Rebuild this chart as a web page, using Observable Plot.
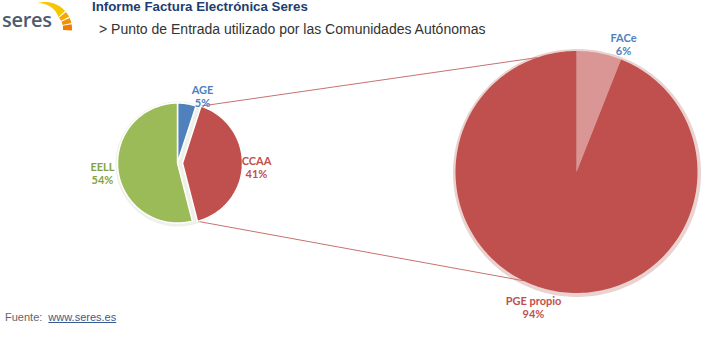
<!DOCTYPE html>
<html><head><meta charset="utf-8">
<script src="https://cdn.jsdelivr.net/npm/d3@7"></script>
<script src="https://cdn.jsdelivr.net/npm/@observablehq/plot@0.6"></script>
<style>
body{margin:0;background:#fff;}
#wrap{position:relative;width:720px;height:340px;overflow:hidden;font-family:Arial,"Liberation Sans",sans-serif;}
#chart{position:absolute;left:0;top:0;}
#logo{position:absolute;left:0;top:0;}
#title{position:absolute;left:92px;top:-1px;font-weight:bold;font-size:13.3px;color:#1f3d6e;white-space:nowrap;}
#subtitle{position:absolute;left:99px;top:21px;font-size:14px;color:#333;white-space:nowrap;}
#footer{position:absolute;left:5px;top:311px;font-size:11px;color:#666;white-space:nowrap;}
#footer span.l{color:#3b5b8c;text-decoration:underline;margin-left:3px;}
</style></head>
<body><div id="wrap">
<div id="chart"></div>
<svg id="logo" width="80" height="40"></svg>
<div id="title">Informe Factura Electrónica Seres</div>
<div id="subtitle">&gt; Punto de Entrada utilizado por las Comunidades Autónomas</div>
<div id="footer">Fuente: <span class="l">www.seres.es</span></div>
</div>
<script>
// ---- data ----
const mainCategories = ["AGE", "CCAA", "EELL"];
const mainValues = [5, 41, 54];
const subCategories = ["FACe", "PGE propio"];
const subValues = [6, 94];
const splitCategory = "CCAA";

// ---- styles / layout ----
const sliceColors = {AGE: "#4f81bd", CCAA: "#c0504d", EELL: "#9bbb59", FACe: "#d99694", "PGE propio": "#c0504d"};
const labelColors = {AGE: "#4f81bd", CCAA: "#c0504d", EELL: "#86a33f", FACe: "#4f81bd", "PGE propio": "#c0504d"};
const small = {cx: 177, cy: 162.5, r: 60};
const big = {cx: 576, cy: 171.5, r: 121};
const explode = 5;
const labelPos = {AGE: [202, 96], CCAA: [256, 167], EELL: [102, 173], FACe: [623, 44], "PGE propio": [533, 307]};
const connectorAngles = [341, 206]; // degrees on secondary pie

const rad = Math.PI / 180;
function slicePts(name, a0, a1, cx, cy, r) {
  const pts = [{name, x: cx, y: cy}];
  const n = Math.max(2, Math.ceil((a1 - a0) / (Math.PI / 120)));
  for (let i = 0; i <= n; i++) {
    const a = a0 + (a1 - a0) * i / n;
    pts.push({name, x: cx + r * Math.sin(a), y: cy - r * Math.cos(a)});
  }
  pts.push({name, x: cx, y: cy});
  return pts;
}

const pie = d3.pie().sort(null).value(d => d.value);
const mainArcs = pie(mainCategories.map((c, i) => ({name: c, value: mainValues[i]})));
const subArcs = pie(subCategories.map((c, i) => ({name: c, value: subValues[i]})));

let smallPts = [], bigPts = [], connectors = [];
for (const a of mainArcs) {
  let cx = small.cx, cy = small.cy;
  if (a.data.name === splitCategory) {
    const mid = (a.startAngle + a.endAngle) / 2;
    cx += explode * Math.sin(mid); cy -= explode * Math.cos(mid);
    const ends = [a.startAngle, a.endAngle];
    ends.forEach((ang, i) => {
      const b = connectorAngles[i] * rad;
      connectors.push({
        x1: cx + small.r * Math.sin(ang), y1: cy - small.r * Math.cos(ang),
        x2: big.cx + big.r * Math.sin(b), y2: big.cy - big.r * Math.cos(b)
      });
    });
  }
  smallPts = smallPts.concat(slicePts(a.data.name, a.startAngle, a.endAngle, cx, cy, small.r));
}
for (const a of subArcs) {
  bigPts = bigPts.concat(slicePts(a.data.name, a.startAngle, a.endAngle, big.cx, big.cy, big.r));
}
const halo1 = slicePts("halo", 0, 2 * Math.PI, big.cx + 0.5, big.cy + 1, big.r + 3);
const halo2 = slicePts("halo", 0, 2 * Math.PI, small.cx + 0.5, small.cy + 1, small.r + 2.5);

const allCats = mainCategories.concat(subCategories.filter(c => !mainCategories.includes(c)));
const labels = mainCategories.map((c, i) => ({name: c, text: c + "\n" + mainValues[i] + "%"}))
  .concat(subCategories.map((c, i) => ({name: c, text: c + "\n" + subValues[i] + "%"})));

const textMarks = labels.map(l => Plot.text([l], {
  x: d => labelPos[d.name][0], y: d => labelPos[d.name][1], text: "text",
  fill: labelColors[l.name], fontFamily: "Lato, 'Open Sans', sans-serif", fontWeight: "bold",
  fontSize: 11, lineHeight: 1.15, textAnchor: "middle"
}));

const chart = Plot.plot({
  width: 720, height: 340, margin: 0,
  style: {background: "transparent"},
  x: {domain: [0, 720], range: [0, 720], axis: null},
  y: {domain: [0, 340], range: [0, 340], axis: null},
  color: {domain: allCats, range: allCats.map(c => sliceColors[c])},
  marks: [
    Plot.line(halo1, {x: "x", y: "y", fill: "#ead2d0", stroke: "none", curve: "linear"}),
    Plot.line(halo2, {x: "x", y: "y", fill: "#eef0ea", stroke: "none", curve: "linear"}),
    Plot.link(connectors, {x1: "x1", y1: "y1", x2: "x2", y2: "y2", stroke: "#c8726f", strokeWidth: 1}),
    Plot.line(bigPts, {x: "x", y: "y", z: "name", fill: "name", stroke: "none", curve: "linear"}),
    Plot.line(smallPts, {x: "x", y: "y", z: "name", fill: "name", stroke: "white", strokeWidth: 1.5, strokeLinejoin: "round", curve: "linear"}),
    ...textMarks
  ]
});
document.getElementById("chart").appendChild(chart);

// logo
const logo = d3.select("#logo");
logo.append("text").attr("x", 2).attr("y", 27).attr("font-family", "'Open Sans', sans-serif")
  .attr("font-size", 20).attr("font-weight", 600).attr("fill", "#4d5b70").attr("letter-spacing", -0.3).text("seres");
const lc = {x: 45, y: 29}, outer = 27;
const innerR = a => outer - Math.min(9, Math.max(0, (a + 15) / 7));
const segs = [[-15, 48, "#f7c600"], [51, 63, "#f5a800"], [66, 77, "#f29200"], [80, 93, "#ee7d00"]];
for (const [s, e, col] of segs) {
  const p = d3.path();
  const pt = (r, a) => [lc.x + r * Math.sin(a * rad), lc.y - r * Math.cos(a * rad)];
  p.moveTo(...pt(outer, s));
  for (let a = s; a <= e; a += 1) p.lineTo(...pt(outer, a));
  p.lineTo(...pt(outer, e));
  p.lineTo(...pt(innerR(e), e));
  for (let a = e; a >= s; a -= 1) p.lineTo(...pt(innerR(a), a));
  p.lineTo(...pt(innerR(s), s)); p.closePath();
  logo.append("path").attr("d", p.toString()).attr("fill", col);
}
</script>
</body></html>
